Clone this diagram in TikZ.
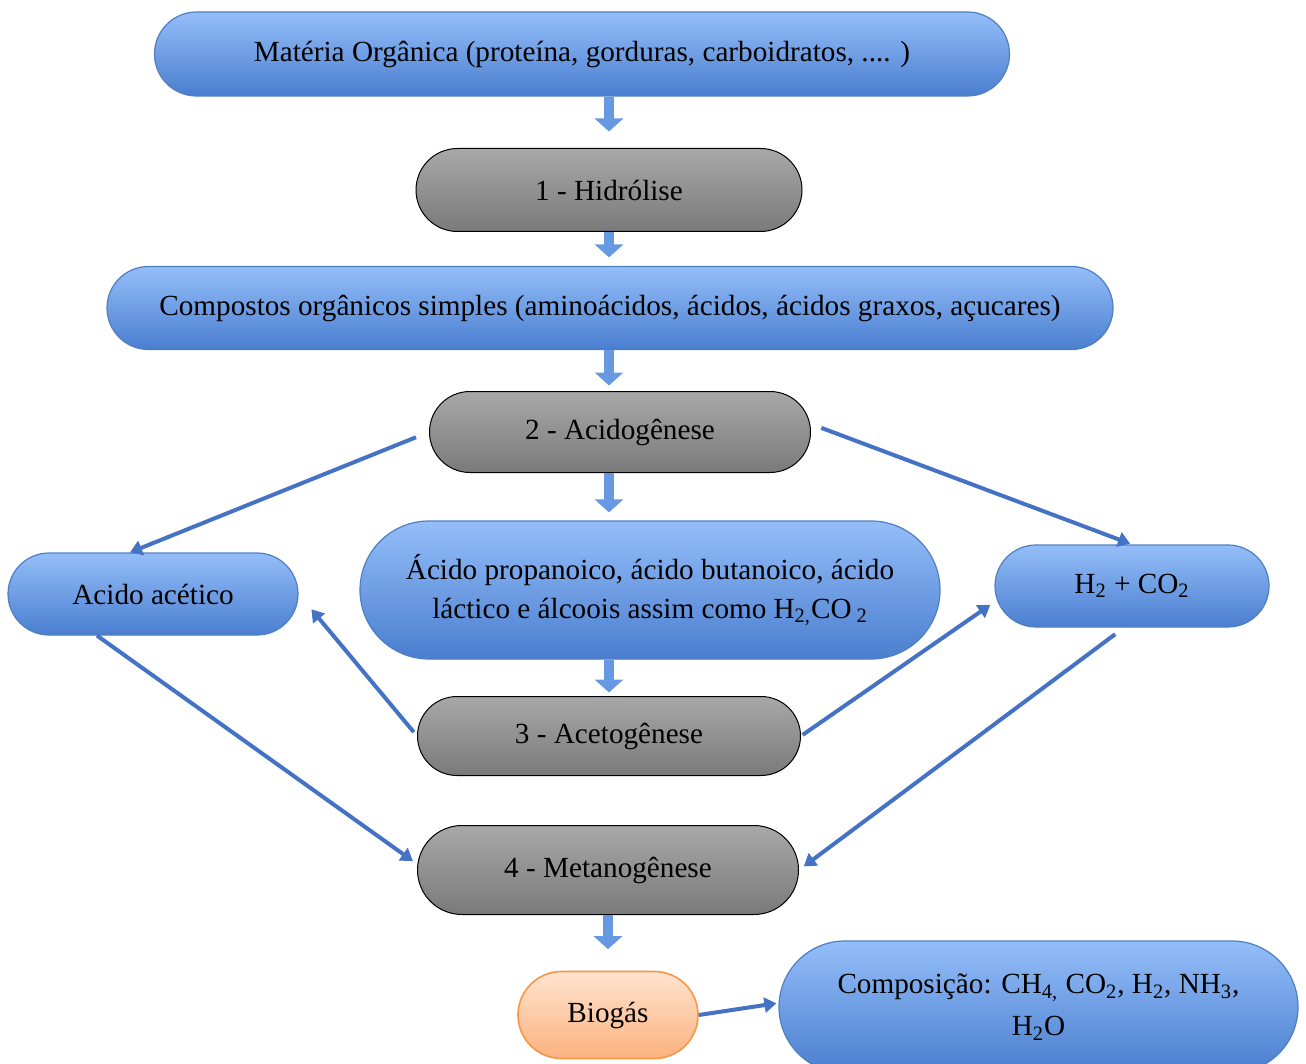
\documentclass[tikz,border=0pt]{standalone}
\usepackage{fontspec}
\setmainfont{Liberation Serif}
\usepackage{tikz}
\usetikzlibrary{arrows.meta,positioning,calc}
\definecolor{bioBlueTop}{HTML}{94BEF9}
\definecolor{bioBlueBot}{HTML}{4A7ECF}
\definecolor{bioBlueLine}{HTML}{4F7FC0}
\definecolor{bioGrayTop}{HTML}{A8A8A8}
\definecolor{bioGrayBot}{HTML}{7A7A7A}
\definecolor{bioOrgTop}{HTML}{FEE3CE}
\definecolor{bioOrgBot}{HTML}{FBB27F}
\definecolor{bioOrgLine}{HTML}{F79646}
\definecolor{bioLink}{HTML}{4472C4}
\definecolor{bioBlock}{HTML}{6798E2}

\begin{document}
\begin{tikzpicture}[x=0.5pt, y=-0.5pt]
\tikzset{
  bx/.style={rectangle, draw=bioBlueLine, line width=0.6pt, top color=bioBlueTop, bottom color=bioBlueBot,
             align=center, inner sep=2pt, font=\fontsize{14.6}{19.5}\selectfont},
  gx/.style={rectangle, draw=black, line width=0.5pt, top color=bioGrayTop, bottom color=bioGrayBot,
             align=center, inner sep=2pt, font=\fontsize{14.6}{19.5}\selectfont},
  ox/.style={rectangle, draw=bioOrgLine, line width=0.8pt, top color=bioOrgTop, bottom color=bioOrgBot,
             align=center, inner sep=2pt, font=\fontsize{14.6}{19.5}\selectfont},
  lk/.style={-{Triangle[width=7.5pt,length=6pt]}, draw=bioLink, line width=2pt},
  blk/.style={-{Triangle[width=14pt,length=6.5pt]}, draw=bioBlock, line width=5pt}
}
\useasboundingbox (0,0) rectangle (1306,1064);

% Main spine
\node[bx, minimum width=427.5pt, minimum height=42pt, rounded corners=21pt] (mat) at (582,54)
 {Matéria Orgânica (proteína, gorduras, carboidratos, .... )};
\node[gx, minimum width=193pt, minimum height=41.5pt, rounded corners=20.75pt] (hidr) at (609,190)
 {1 - Hidrólise};
\node[bx, minimum width=503pt, minimum height=41.5pt, rounded corners=20.75pt] (simp) at (610,308)
 {Compostos orgânicos simples (aminoácidos, ácidos, ácidos graxos, açucares)};
\node[gx, minimum width=190.5pt, minimum height=40.5pt, rounded corners=20.25pt] (acid) at (620,432)
 {2 - Acidogênese};
\node[bx, minimum width=290pt, minimum height=69pt, rounded corners=34.5pt] (prod) at (650,590)
 {Ácido propanoico, ácido butanoico, ácido\\láctico e álcoois assim como H\textsubscript{2,}CO\,\textsubscript{2}};
\node[gx, minimum width=191.5pt, minimum height=39.5pt, rounded corners=19.75pt] (acet) at (609,736)
 {3 - Acetogênese};
\node[gx, minimum width=190.5pt, minimum height=44.5pt, rounded corners=22.25pt] (meta) at (608,870)
 {4 - Metanogênese};
\node[ox, minimum width=90pt, minimum height=43.5pt, rounded corners=21.75pt] (biog) at (608,1015)
 {Biogás};
\node[bx, minimum width=259.5pt, minimum height=66pt, rounded corners=33pt,
      font=\fontsize{14.6}{21}\selectfont] (compo) at (1038.5,1007)
 {Composição: CH\textsubscript{4,} CO\textsubscript{2}, H\textsubscript{2}, NH\textsubscript{3},\\H\textsubscript{2}O};

% Side products
\node[bx, minimum width=145pt, minimum height=41pt, rounded corners=20.5pt] (acetico) at (153,594)
 {Acido acético};
\node[bx, minimum width=137pt, minimum height=41pt, rounded corners=20.5pt] (hco) at (1132,586)
 {H\textsubscript{2} + CO\textsubscript{2}};

% Block arrows
\draw[blk] (mat.south -| hidr) -- ([yshift=8.25pt]hidr.north);
\draw[blk] (hidr.south) -- ([yshift=4.25pt]simp.north -| hidr);
\draw[blk] (simp.south -| hidr) -- ([yshift=2.75pt]acid.north -| hidr);
\draw[blk] (acid.south -| hidr) -- ([yshift=4pt]prod.north -| hidr);
\draw[blk] (prod.south -| acet) -- ([yshift=1.75pt]acet.north);
\draw[blk] (meta.south) -- ([yshift=10.75pt]biog.north);

% Links
\draw[lk, shorten <=7pt] (acid.west) -- ([xshift=-11.5pt]acetico.north);
\draw[lk, shorten <=5.5pt, shorten >=1pt] ([yshift=4pt]acid.east) -- (hco.north);
\draw[lk, shorten <=2.5pt, shorten >=10pt] (acet.west) -- (acetico.east);
\draw[lk, shorten <=1pt, shorten >=2.5pt] (acet.east) -- ([yshift=-8pt]hco.west);
\draw[lk, shorten >=2.5pt] ([xshift=-28pt]acetico.south) -- ([yshift=3pt]meta.west);
\draw[lk, shorten <=5.5pt, shorten >=3pt] ([xshift=-4pt]hco.south) -- (meta.east);
\draw[lk, shorten >=1pt] (biog.east) -- ([yshift=2pt]compo.west);
\end{tikzpicture}
\end{document}
